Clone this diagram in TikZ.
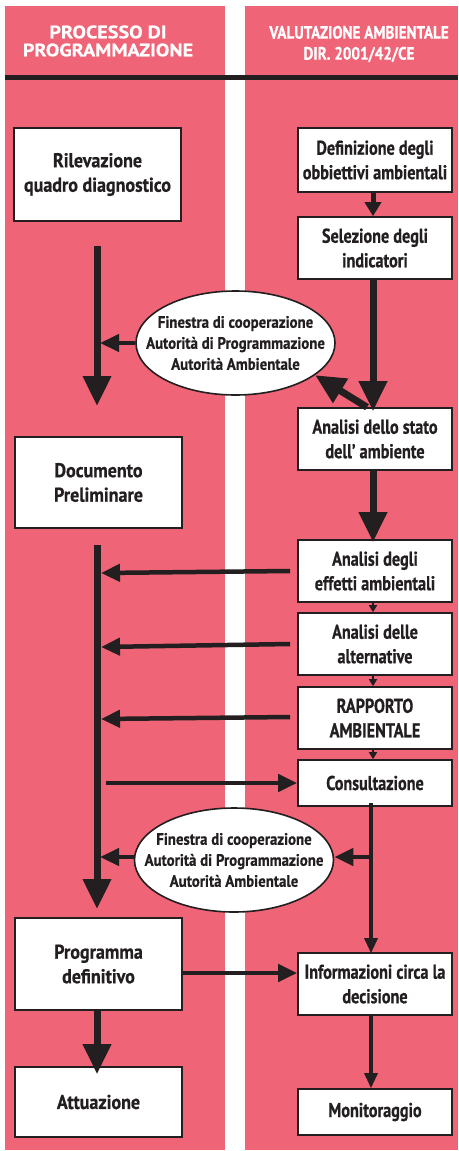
\documentclass[tikz,border=0pt]{standalone}
\usepackage{fontspec}
\setmainfont{PT Sans}[FakeStretch=0.9,BoldFeatures={FakeBold=0.6}]
\newfontfamily\hfw{PT Sans}[FakeStretch=1.12,BoldFeatures={FakeBold=0.6}]
\newfontfamily\hfn{PT Sans}[FakeStretch=0.84,BoldFeatures={FakeBold=0.6}]
\newfontfamily\rfn{PT Sans}[FakeStretch=0.81,BoldFeatures={FakeBold=0.6}]
\usetikzlibrary{arrows.meta,shapes.geometric}
\definecolor{pinkbg}{HTML}{EF6476}
\definecolor{ink}{HTML}{231F20}
\tikzset{
  box/.style={draw=ink,line width=1.6pt,fill=white,align=center,inner sep=0pt,
    font=\fontsize{20}{24.5}\selectfont\bfseries,text=ink},
  lbox/.style={box,minimum width=167pt},
  rbox/.style={box,minimum width=154pt,font=\rfn\fontsize{20}{24.5}\selectfont\bfseries},
  coop/.style={ellipse,draw=ink,line width=1.6pt,fill=white,align=center,
    inner xsep=-22pt,inner ysep=-9pt,
    minimum width=199pt,minimum height=104pt,font=\fontsize{16.5}{21}\selectfont\bfseries,text=ink},
  headl/.style={text=white,align=center,font=\hfw\fontsize{18}{18}\selectfont\bfseries},
  headr/.style={text=white,align=center,font=\hfn\fontsize{18}{21}\selectfont\bfseries},
  thick arrow/.style={draw=ink,line width=7pt,-{Triangle[width=27pt,length=30pt]}},
  mid arrow/.style={draw=ink,line width=4.5pt,-{Triangle[width=17pt,length=19pt]}},
  short arrow/.style={draw=ink,line width=5pt,-{Triangle[width=16pt,length=14pt]}},
  thin arrow/.style={draw=ink,line width=3.2pt,-{Triangle[width=13pt,length=15pt]}},
  tiny arrow/.style={draw=ink,line width=1.5pt,-{Triangle[width=8pt,length=7pt]}},
}
\begin{document}
\begin{tikzpicture}[x=1pt,y=-1pt]
\useasboundingbox (0,0) rectangle (458,1151);
\fill[white] (0,0) rectangle (458,1151);
\fill[pinkbg] (5,6) rectangle (225,1150);
\fill[pinkbg] (245,6) rectangle (458,1150);
\draw[ink,line width=4.5pt] (5,77.5) -- (458,77.5);
\node[headl] (h1) at (108,41) {PROCESSO DI\\PROGRAMMAZIONE};
\node[headr] (h2) at (359,44) {VALUTAZIONE AMBIENTALE\\DIR. 2001/42/CE};

% left column
\node[lbox,minimum height=93pt] (ril) at (97.5,174.5) {Rilevazione\\quadro diagnostico};
\node[lbox,minimum height=91pt] (doc) at (98.5,482.5) {Documento\\Preliminare};
\node[lbox,minimum height=92pt] (prog) at (98.5,964) {Programma\\definitivo};
\node[lbox,minimum height=70pt] (att) at (98.5,1102) {Attuazione};

% right column
\node[rbox,minimum height=64pt] (def) at (375,160) {Definizione degli\\obbiettivi ambientali};
\node[rbox,minimum height=62pt] (sel) at (375,248) {Selezione degli\\indicatori};
\node[rbox,minimum height=62pt] (stato) at (375,439) {Analisi dello stato\\dell’ ambiente};
\node[rbox,minimum height=62pt] (eff) at (375,571) {Analisi degli\\effetti ambientali};
\node[rbox,minimum height=62pt] (alt) at (375,644) {Analisi delle\\alternative};
\node[rbox,minimum height=62pt] (rap) at (375,718) {RAPPORTO\\AMBIENTALE};
\node[rbox,minimum height=46pt] (cons) at (375,783) {Consultazione};
\node[rbox,minimum height=62pt] (info) at (375,984) {Informazioni circa la\\decisione};
\node[rbox,minimum height=46pt] (mon) at (375,1112) {Monitoraggio};

% cooperation windows
\node[coop] (c1) at (235.5,343) {Finestra di cooperazione\\Autorità di Programmazione\\Autorità Ambientale};
\node[coop] (c2) at (234,860) {Finestra di cooperazione\\Autorità di Programmazione\\Autorità Ambientale};

% left trunk lines
\coordinate (l1s) at (97,246);
\coordinate (l1e) at (97,406);
\coordinate (l2s) at (97,545);
\coordinate (l2e) at (97,909);
\draw[thick arrow] (l1s) -- (l1e);
\draw[thick arrow] (l2s) -- (l2e);

% right column flow
\draw[short arrow] ([xshift=-2pt]def.south) -- ([xshift=-2pt]sel.north);
\draw[thick arrow] ([xshift=-2pt]sel.south) -- ([xshift=-2pt,yshift=-4pt]stato.north);
\draw[thick arrow] ([xshift=-8pt]stato.north) -- (c1.-22);
\draw[thick arrow] ([xshift=-2pt]stato.south) -- ([xshift=-2pt,yshift=-3pt]eff.north);
\draw[tiny arrow] ([xshift=-2pt]eff.south) -- ([xshift=-2pt]alt.north);
\draw[tiny arrow] ([xshift=-2pt]alt.south) -- ([xshift=-2pt]rap.north);
\draw[tiny arrow] ([xshift=-2pt]rap.south) -- ([xshift=-2pt]cons.north);

% window 1 to left trunk
\draw[mid arrow] (c1.west) -- (100,343);

% feedback from right boxes to left trunk
\draw[mid arrow] ([xshift=-7pt]eff.west) -- (101,573);
\draw[mid arrow] ([xshift=-7pt]alt.west) -- (101,647);
\draw[mid arrow] ([xshift=-7pt,yshift=1pt]rap.west) -- (101,719);
\draw[mid arrow] (106,783) -- (cons.west);

% consultation downward
\coordinate (cv) at (371,857);
\draw[ink,line width=3.2pt] ([xshift=-4pt,yshift=4pt]cons.south) -- (cv);
\draw[thin arrow] (cv) -- ([yshift=-1pt]info.north -| cv);
\draw[mid arrow] ([xshift=1.6pt]cv) -- (c2.east |- cv);
\draw[mid arrow] (c2.west |- cv) -- (100,857);

% bottom
\draw[mid arrow] (prog.east |- 0,973) -- (info.west |- 0,973);
\draw[thick arrow] ([xshift=-1.5pt]prog.south) -- ([xshift=-1.5pt,yshift=-8pt]att.north);
\draw[thin arrow] (info.south -| 371,0) -- (mon.north -| 371,0);
\end{tikzpicture}
\end{document}
